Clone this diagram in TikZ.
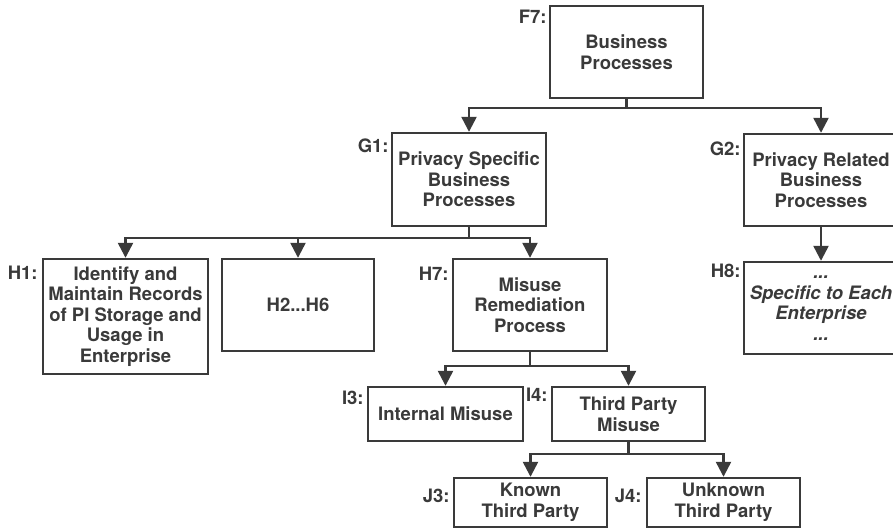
\documentclass[tikz,border=0pt]{standalone}
\usepackage{fontspec}
\setmainfont{TeX Gyre Heros}
\usetikzlibrary{arrows.meta}
\definecolor{ink}{HTML}{3A3A3A}
\begin{document}
\begin{tikzpicture}[x=1pt,y=-1pt,
  box/.style={draw=ink, line width=2.4pt, text=ink, font=\fontsize{18.5}{20.5}\selectfont\bfseries, align=center, inner sep=0pt},
  lbl/.style={text=ink, font=\fontsize{18.5}{20.5}\selectfont\bfseries, inner sep=0pt, anchor=north east},
  conn/.style={draw=ink, line width=2.4pt, -{Triangle[width=15pt,length=15pt]}}]
\useasboundingbox (0,0) rectangle (893,529);
% boxes
\node[box, minimum width=153pt, minimum height=92pt] (F7) at (626.5,52) {Business\\Processes};
\node[box, minimum width=154pt, minimum height=93pt] (G1) at (469,179.5) {Privacy Specific\\Business\\Processes};
\node[box, minimum width=154pt, minimum height=92pt] (G2) at (821,180) {Privacy Related\\Business\\Processes};
\node[box, minimum width=165pt, minimum height=115pt] (H1) at (125.5,316.5) {Identify and\\Maintain Records\\of PI Storage and\\Usage in\\Enterprise};
\node[box, minimum width=152pt, minimum height=92pt] (H2) at (298,305) {H2...H6};
\node[box, minimum width=154pt, minimum height=92pt] (H7) at (530,305) {Misuse\\Remediation\\Process};
\node[box, minimum width=154pt, minimum height=92pt, font=\fontsize{18.5}{20.5}\selectfont\bfseries\itshape] (H8) at (821,308) {...\\Specific to Each\\Enterprise\\...};
\node[box, minimum width=155pt, minimum height=54pt] (I3) at (445.5,414) {Internal Misuse};
\node[box, minimum width=153pt, minimum height=54pt] (I4) at (628.5,414) {Third Party\\Misuse};
\node[box, minimum width=153pt, minimum height=49pt] (J3) at (530.5,502.5) {Known\\Third Party};
\node[box, minimum width=153pt, minimum height=49pt] (J4) at (723.5,502.5) {Unknown\\Third Party};
% labels
\node[lbl] (F7l) at ([shift={(-2,5)}]F7.north west) {F7:};
\node[lbl] (G1l) at ([shift={(-2,7)}]G1.north west) {G1:};
\node[lbl] (G2l) at ([shift={(-2,9)}]G2.north west) {G2:};
\node[lbl] (H1l) at ([shift={(-4,8)}]H1.north west) {H1:};
\node[lbl] (H7l) at ([shift={(-3,9)}]H7.north west) {H7:};
\node[lbl] (H8l) at ([shift={(-2,3)}]H8.north west) {H8:};
\node[lbl] (I3l) at ([shift={(-3,5)}]I3.north west) {I3:};
\node[lbl] (I4l) at ([shift={(-3,2)}]I4.north west) {I4:};
\node[lbl] (J3l) at ([shift={(-3,12)}]J3.north west) {J3:};
\node[lbl] (J4l) at ([shift={(-4,12)}]J4.north west) {J4:};
% connectors
\draw[conn] (F7.south) -- ++(0,9) -| (G1.north);
\draw[conn] (F7.south) -- ++(0,9) -| (G2.north);
\draw[conn] (G1.south) -- ++(0,11) -| (H1.north);
\draw[conn] (G1.south) -- ++(0,11) -| (H2.north);
\draw[conn] (G1.south) -- ++(0,11) -| (H7.north);
\draw[conn] (G2.south) -- (H8.north);
\draw[conn] (H7.south) -- ++(0,14) -| (I3.north);
\draw[conn] (H7.south) -- ++(0,14) -| (I4.north);
\draw[conn] (I4.south) -- ++(0,12) -| (J3.north);
\draw[conn] (I4.south) -- ++(0,12) -| (J4.north);
\end{tikzpicture}
\end{document}
